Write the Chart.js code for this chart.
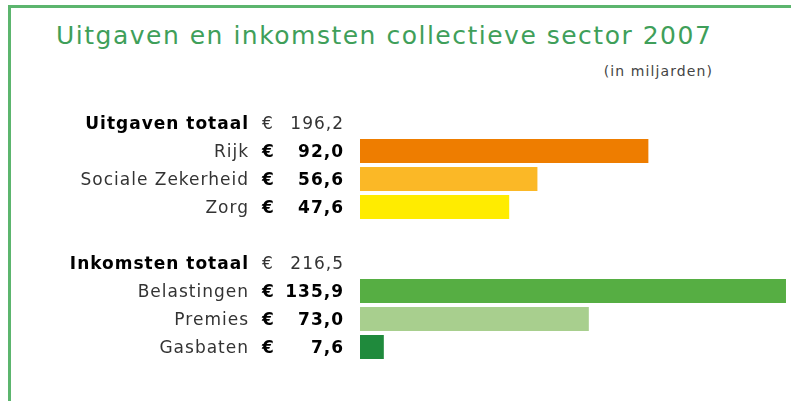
<!DOCTYPE html>
<html>
<head>
<meta charset="utf-8">
<script src="https://cdn.jsdelivr.net/npm/chart.js@4"></script>
<style>
  html, body { margin: 0; padding: 0; background: #fff; }
  #wrap { position: relative; width: 791px; height: 401px; overflow: hidden; }
  #frame {
    position: absolute; left: 8px; top: 5px; width: 800px; height: 420px;
    border-left: 3px solid #5cb56e; border-top: 3px solid #5cb56e;
  }
  #title {
    position: absolute; left: 56px; top: 21px; white-space: nowrap; letter-spacing: 1.5px;
    font: 25px "DejaVu Sans", Verdana, sans-serif; color: #3f9f5a;
  }
  #subtitle {
    position: absolute; right: 78px; top: 63px; white-space: nowrap; letter-spacing: 1.1px;
    font: 14px "DejaVu Sans", Verdana, sans-serif; color: #444;
  }
  canvas { position: absolute; left: 0; top: 0; }
</style>
</head>
<body>
<div id="wrap">
  <div id="frame"></div>
  <div id="title">Uitgaven en inkomsten collectieve sector 2007</div>
  <div id="subtitle">(in miljarden)</div>
  <canvas id="chart" width="791" height="401"></canvas>
</div>
<script>
const categories = ['Uitgaven totaal', 'Rijk', 'Sociale Zekerheid', 'Zorg', '', 'Inkomsten totaal', 'Belastingen', 'Premies', 'Gasbaten'];
const rowValues = [196.2, 92.0, 56.6, 47.6, null, 216.5, 135.9, 73.0, 7.6];
const isTotal = [true, false, false, false, false, true, false, false, false];
const barColors = [null, '#ee7d00', '#fbb826', '#ffec00', null, null, '#56ae43', '#a8cf8e', '#1f8a3c'];

const barValues = rowValues.map((v, i) => isTotal[i] ? null : v);

function fmt(v) {
  return v.toFixed(1).replace('.', ',');
}

const rowLabels = {
  id: 'rowLabels',
  afterDraw(chart) {
    const ctx = chart.ctx;
    const y = chart.scales.y;
    ctx.save();
    ctx.letterSpacing = '1px';
    categories.forEach((name, i) => {
      if (rowValues[i] == null) return;
      const py = y.getPixelForValue(i) + 2;
      ctx.textBaseline = 'middle';

      // name
      ctx.textAlign = 'right';
      ctx.font = (isTotal[i] ? 'bold ' : '') + '17px "DejaVu Sans"';
      ctx.fillStyle = isTotal[i] ? '#000' : '#333';
      ctx.fillText(name, 249, py);

      // euro sign + value
      ctx.font = (isTotal[i] ? '' : 'bold ') + '17px "DejaVu Sans"';
      ctx.fillStyle = isTotal[i] ? '#333' : '#000';
      ctx.textAlign = 'left';
      ctx.fillText('€', 262, py);
      ctx.textAlign = 'right';
      ctx.fillText(fmt(rowValues[i]), 344, py);
    });
    ctx.restore();
  }
};

new Chart(document.getElementById('chart'), {
  type: 'bar',
  data: {
    labels: categories,
    datasets: [{
      data: barValues,
      backgroundColor: barColors,
      borderWidth: 0,
      categoryPercentage: 1,
      barPercentage: 24 / 28
    }]
  },
  options: {
    indexAxis: 'y',
    responsive: false,
    animation: false,
    layout: { padding: { left: 360, right: 0, top: 109, bottom: 40 } },
    scales: {
      x: { display: false, min: 0, max: 137.5 },
      y: { display: false }
    },
    plugins: {
      legend: { display: false },
      tooltip: { enabled: false }
    }
  },
  plugins: [rowLabels]
});
</script>
</body>
</html>
